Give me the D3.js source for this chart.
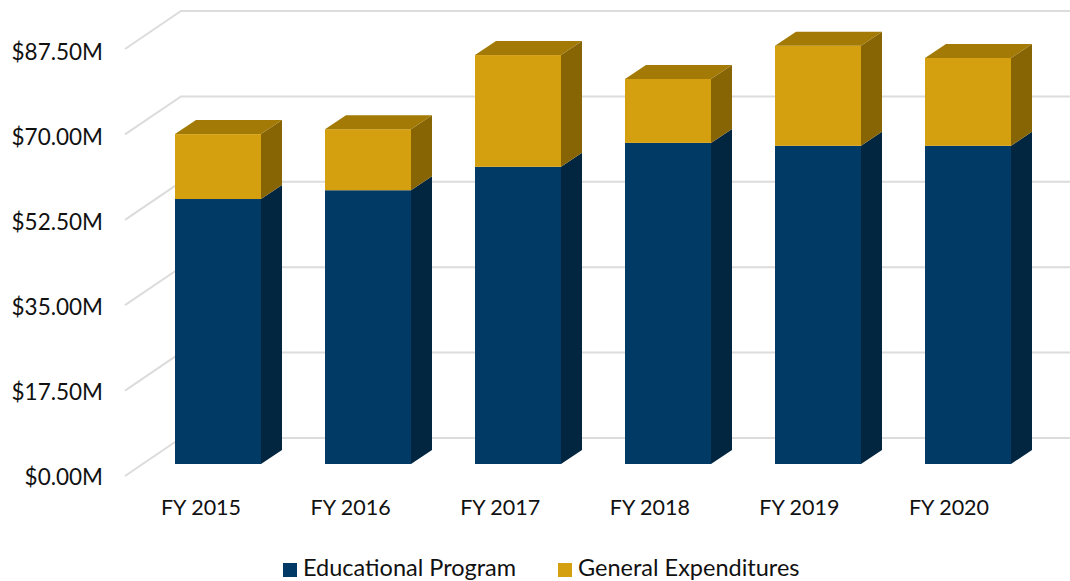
<!DOCTYPE html>
<html>
<head>
<meta charset="utf-8">
<script src="https://cdn.jsdelivr.net/npm/d3@7"></script>
<style>
  html, body { margin: 0; padding: 0; background: #fff; }
  svg { display: block; }
  text { font-family: Lato, "Open Sans", sans-serif; fill: #111; }
  .axis text { font-size: 21.5px; }
  .axis.yaxis text { font-size: 22.5px; }
  .legend text { font-size: 23.5px; }
</style>
</head>
<body>
<svg id="chart" width="1070" height="581"></svg>
<script>
'use strict';
// values in $M
const years = ['FY 2015', 'FY 2016', 'FY 2017', 'FY 2018', 'FY 2019', 'FY 2020'];
const educational = [54.3, 56.1, 60.9, 65.8, 65.2, 65.2];
const general = [13.3, 12.5, 22.9, 13.1, 20.5, 18.0];
const ticks = [0, 17.5, 35, 52.5, 70, 87.5];
const seriesNames = ['Educational Program', 'General Expenditures'];
const frontColors = ['#023a66', '#d5a00f'];
const sideColors = ['#02263f', '#886504'];
const topColors = ['#02304f', '#a27a05'];

const rows = years.map((y, i) => ({ year: y, [seriesNames[0]]: educational[i], [seriesNames[1]]: general[i] }));
const stacked = d3.stack().keys(seriesNames)(rows);

const svg = d3.select('#chart');

// fake 3d depth of the bars and of the floor/wall
const depthX = 21, depthY = 14;
const wallX0 = 181, wallX1 = 1070, sideX0 = 125, sideDy = 38;

const y = d3.scaleLinear().domain([0, 87.5]).range([464, 37]);
const yFront = d3.scaleLinear().domain([0, 87.5]).range([476, 49]);
const yLabel = d3.scaleLinear().domain([0, 87.5]).range([477, 52]);
const x = d3.scaleBand().domain(years).range([143, 1043]).paddingInner(64 / 150).paddingOuter(32 / 150);
// labels sit left of the bars and run on a slightly tighter step
const xLabel = d3.scaleBand().domain(years).range([126.2, 1023.8]);

// gridlines: wall part plus the slanted side wall part
const grid = svg.append('g').attr('fill', 'none').attr('stroke', '#dcdcdc').attr('stroke-width', 2);
grid.selectAll('path')
  .data(ticks)
  .join('path')
  .attr('d', d => `M${sideX0},${yFront(d)} L${wallX0},${yFront(d) - sideDy} L${wallX1},${yFront(d) - sideDy}`);

// bars, left to right, bottom segment first
const bars = svg.append('g')
  .selectAll('g.bar')
  .data(years)
  .join('g')
  .attr('class', 'bar');

bars.each(function (yr, i) {
  const g = d3.select(this);
  const x0 = x(yr), x1 = x0 + x.bandwidth();
  stacked.forEach((s, k) => {
    const yb = y(s[i][0]), yt = y(s[i][1]);
    g.append('path') // side face
      .attr('fill', sideColors[k])
      .attr('d', `M${x1},${yb} l${depthX},${-depthY} L${x1 + depthX},${yt - depthY} L${x1},${yt} Z`);
    g.append('rect') // front face
      .attr('x', x0).attr('y', yt)
      .attr('width', x.bandwidth()).attr('height', yb - yt)
      .attr('fill', frontColors[k]);
    if (k === stacked.length - 1) {
      g.append('path') // top face
        .attr('fill', topColors[k])
        .attr('d', `M${x0},${yt} l${depthX},${-depthY} L${x1 + depthX},${yt - depthY} L${x1},${yt} Z`);
    }
  });
});

// axes, labels only
const yAxis = d3.axisLeft(yLabel).tickValues(ticks).tickSize(0).tickPadding(0)
  .tickFormat(d => `$${d.toFixed(2)}M`);
svg.append('g')
  .attr('class', 'axis yaxis')
  .attr('transform', 'translate(103,0)')
  .call(yAxis)
  .call(g => g.select('.domain').remove());

const xAxis = d3.axisBottom(xLabel).tickSize(0).tickPadding(0);
svg.append('g')
  .attr('class', 'axis')
  .attr('transform', 'translate(0,500)')
  .call(xAxis)
  .call(g => g.select('.domain').remove());

// legend
const legendX = d3.scaleOrdinal().domain(seriesNames).range([283, 558]);
const legend = svg.append('g')
  .attr('class', 'legend')
  .selectAll('g')
  .data(seriesNames)
  .join('g')
  .attr('transform', d => `translate(${legendX(d)},563)`);
legend.append('rect')
  .attr('width', 14).attr('height', 14)
  .attr('fill', (d, i) => frontColors[i]);
legend.append('text')
  .attr('x', 20).attr('y', 13)
  .text(d => d);
</script>
</body>
</html>
